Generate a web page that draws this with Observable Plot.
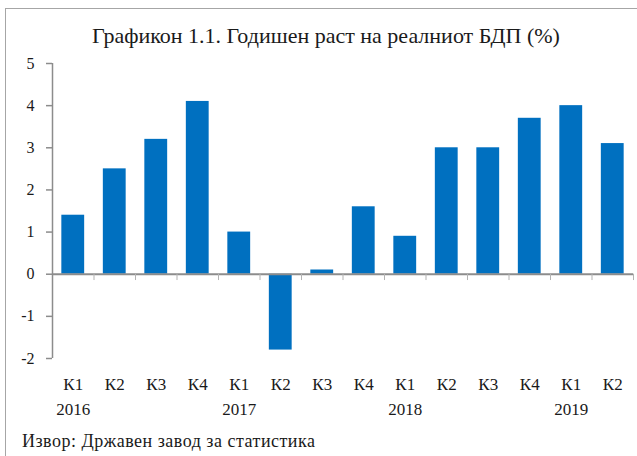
<!DOCTYPE html>
<html>
<head>
<meta charset="utf-8">
<script src="https://cdn.jsdelivr.net/npm/d3@7"></script>
<script src="https://cdn.jsdelivr.net/npm/@observablehq/plot@0.6"></script>
<style>
  html, body { margin: 0; padding: 0; background: #fff; }
  #wrap { position: relative; width: 637px; height: 456px; overflow: hidden; font-family: "Liberation Serif", serif; color: #1a1a1a; }
  #frame { position: absolute; left: 5px; top: 8px; width: 700px; height: 600px; border: 1px solid #a6a6a6; box-sizing: border-box; }
  #title { position: absolute; left: 0; width: 652px; top: 24.6px; text-align: center; font-size: 22px; line-height: 22px; white-space: nowrap; }
  #chart { position: absolute; left: 0; top: 50px; }
  #caption { position: absolute; left: 22px; top: 432px; font-size: 18px; line-height: 18px; letter-spacing: 0.5px; white-space: nowrap; }
</style>
</head>
<body>
<div id="wrap">
  <div id="frame"></div>
  <div id="title">Графикон 1.1. Годишен раст на реалниот БДП (%)</div>
  <div id="chart"></div>
  <div id="caption">Извор: Државен завод за статистика</div>
</div>
<script>
const quarters = ["К1","К2","К3","К4","К1","К2","К3","К4","К1","К2","К3","К4","К1","К2"];
const years    = ["2016","2016","2016","2016","2017","2017","2017","2017","2018","2018","2018","2018","2019","2019"];
const values   = [1.4, 2.5, 3.2, 4.1, 1.0, -1.8, 0.1, 1.6, 0.9, 3.0, 3.0, 3.7, 4.0, 3.1];
const yTicks   = [-2, -1, 0, 1, 2, 3, 4, 5];

const data = quarters.map((q, i) => ({key: years[i] + " " + q, quarter: q, year: years[i], value: values[i], first: i === 0 || years[i] !== years[i - 1]}));
const keys = data.map(d => d.key);

const W = 637, H = 375, mL = 52, mR = 4, mT = 13, mB = 67;
const step = (W - mL - mR) / keys.length;
const axisColor = "#8c8c8c";

const chart = Plot.plot({
  width: W, height: H,
  marginLeft: mL, marginRight: mR, marginTop: mT, marginBottom: mB,
  style: {fontFamily: "Liberation Serif, serif", fontSize: "16px", color: "#1a1a1a", background: "transparent", overflow: "visible"},
  x: {type: "band", domain: keys, paddingInner: 0.45, paddingOuter: 0.225, round: false, axis: null},
  y: {domain: [-2, 5], axis: null},
  marks: [
    Plot.barY(data, {x: "key", y: "value", fill: "#0070C0"}),
    Plot.ruleY([0], {stroke: axisColor, strokeWidth: 2}),
    Plot.ruleX(keys, {x: d => d, y1: 0, y2: -0.15, dx: step / 2, stroke: "#b3b3b3", strokeWidth: 1}),
    Plot.ruleX([keys[0]], {x: d => d, y1: -2, y2: 5, dx: -step / 2, stroke: axisColor, strokeWidth: 1.5}),
    Plot.axisY({ticks: yTicks, label: null, tickSize: 6, tickPadding: 12, stroke: axisColor, strokeWidth: 1.5, fontSize: 16, fill: "#1a1a1a", tickFormat: d => String(d)}),
    Plot.text(data, {x: "key", text: "quarter", frameAnchor: "bottom", lineAnchor: "top", dy: 19, fontSize: 17, fill: "#1a1a1a"}),
    Plot.text(data.filter(d => d.first), {x: "key", text: "year", frameAnchor: "bottom", lineAnchor: "top", dy: 44, fontSize: 17, fill: "#1a1a1a"})
  ]
});
document.getElementById("chart").appendChild(chart);
</script>
</body>
</html>
